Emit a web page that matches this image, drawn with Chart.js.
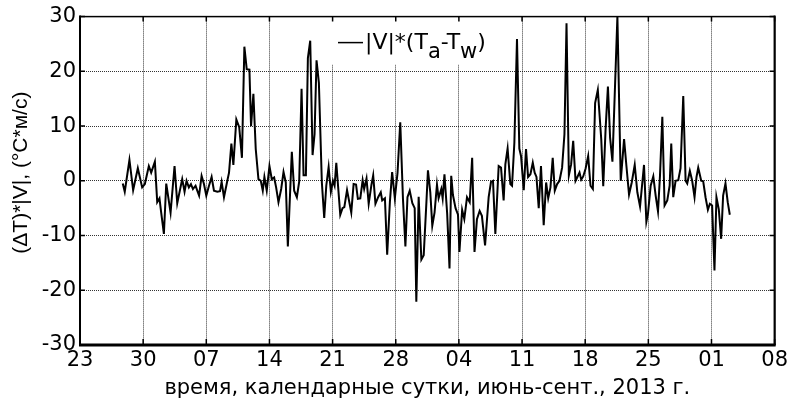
<!DOCTYPE html>
<html>
<head>
<meta charset="utf-8">
<script src="https://cdn.jsdelivr.net/npm/chart.js@4.4.0/dist/chart.umd.min.js"></script>
<style>
html, body { margin: 0; padding: 0; background: #fff; }
</style>
</head>
<body>
<canvas id="myChart" width="791" height="402"></canvas>
<script>
// x ticks: every 7 days starting 23 June 2013
const tickLabels = ['23', '30', '07', '14', '21', '28', '04', '11', '18', '25', '01', '08'];

// time in days since 23.06.2013
const dayOffsets = [
    4.74, 4.96, 5.48, 5.89, 6.41, 6.89, 7.19, 7.63, 7.89, 8.30, 8.56, 8.81, 9.0, 9.30, 9.56, 10.04, 10.48, 10.78,
    11.33, 11.59, 11.81, 12.07, 12.3, 12.52, 12.81, 13.0, 13.2, 13.48, 13.74, 14.0, 14.3, 14.59, 14.85, 15.22,
    15.52, 15.70, 15.96, 16.33, 16.52, 16.78, 17.0, 17.33, 17.65, 17.95,
    18.22, 18.48, 18.78, 18.96, 19.22, 19.48, 19.78, 20.04, 20.26, 20.44, 20.7, 21.0, 21.26, 21.52, 21.74, 22.0,
    22.3, 22.56, 22.81, 23.04, 23.48, 23.74, 24.04, 24.3, 24.56, 24.78, 25.04, 25.26, 25.52, 25.78, 26.0, 26.22,
    26.48, 26.81, 27.07, 27.3, 27.56, 27.81, 28.04, 28.22, 28.41, 28.85, 29.1, 29.3, 29.6, 30.07, 30.33, 30.6,
    30.8, 31.07,
    31.33, 31.5, 31.76, 32.0, 32.3, 32.5, 32.75, 33.05, 33.34, 33.5, 33.8, 34.05, 34.35, 34.6, 34.9, 35.2, 35.5,
    35.8, 36.07, 36.3, 36.55, 36.84, 37.1, 37.28, 37.54, 37.84, 38.1, 38.4, 38.57, 38.83, 39.05, 39.3, 39.57,
    39.75, 40.05, 40.2, 40.4, 40.7, 40.96, 41.15, 41.34, 41.63, 41.9, 42.06, 42.36, 42.6, 42.9, 43.2, 43.47,
    43.73, 44.0, 44.3, 44.55, 44.9,
    45.3, 45.56, 45.78, 46.04, 46.41, 46.67, 46.96, 47.15, 47.4, 47.7, 47.89, 48.15, 48.44, 48.7, 48.89, 49.19,
    49.44, 49.67, 49.93, 50.19, 50.4, 50.6, 50.85, 51.1, 51.4, 51.67, 51.9, 52.15, 52.4, 52.63, 52.89, 53.15,
    53.44, 53.7, 53.93, 54.19, 54.44, 54.67, 54.93, 55.11, 55.37, 55.56, 55.78, 56.04, 56.33, 56.59, 56.85,
    57.1, 57.4, 57.78, 58.0, 58.26, 58.52, 58.76, 59.02, 59.57, 59.94,
    60.31, 60.57, 60.86, 61.16, 61.49, 61.78, 62.08, 62.52, 62.78, 62.96, 63.26, 63.55, 63.81, 64.07, 64.29,
    64.55, 64.8, 65.1, 65.36, 65.54, 65.76, 66.02, 66.32, 66.57, 66.87, 67.13, 67.31, 67.6, 67.86, 68.12, 68.34,
    68.53, 68.86, 69.08, 69.34, 69.6, 69.82, 70.07, 70.33, 70.55, 70.81, 71.07, 71.29, 71.55, 71.8, 72.03
];

// |V|*(Ta-Tw), °C*m/s
const fluxValues = [
    -0.5, -2, 3.8, -1.7, 2.3, -1.2, -0.6, 2.7, 1.5, 3.5, -3.9, -3.2, -5.8, -9.7, -0.5, -5.8, 2.7, -4.1,
    0.3, -2, 0, -1.2, -0.6, -1.5, -0.9, -1.8, -2.7, 0.9, -0.6, -2.7, -0.9, 0.7, -1.8, -2,
    -1.9, -0.2, -3, 0, 1.5, 6.8, 2.9, 11.2, 9.8, 4.2,
    24.5, 20.4, 20.3, 10, 15.9, 5.8, 0.3, 0, -1.8, 0.7, -1.8, 2.7, 0.3, 0.6, -1.2, -3.9,
    -1.5, 1.6, -0.3, -12, 5.3, -1.8, -3, -0.1, 16.8, 1.0, 1.0, 22.4, 25.6, 4.7, 8.5, 22,
    17.9, -0.3, -6.8, -0.9, 2.5, -2, 0, -0.9, 3.3, -6.2, -5, -4.8, -1.7, -5.8, -0.6, -0.7,
    -3.3, -3.2,
    0.1, -1.5, 0.4, -4.2, -0.8, 1, -4.2, -3, -2.1, -3.6, -3.2, -13.5, -3.9, 1.6, -3.2, 1.5, 10.7,
    -3.3, -12, -3, -1.8, -4.1, -5, -22.1, -2.9, -14.4, -13.6, -3.9, 1.9, -2.1, -8.2, -5.8, -0.7,
    -3.2, -1.5, -3.2, 1.2, -6, -16, 0.9, -2.6, -5, -6.2, -13, -5.3, -7, -3, -3.9, 4.2,
    -13, -7, -5.5, -6.4, -11.8,
    -3, -0.2, 0, -9.7, 2.7, 2.4, -3.6, 3, 5.9, -0.6, -0.9, 7, 25.9, 5.9, 4.5, -1.7,
    5.8, 0.7, 1.2, 3.3, 1.5, 0.7, -5, 2.7, -8.1, -0.3, -3.2, -1.2, 4.2, -1.8, -0.6, 0,
    2.4, 8.5, 28.8, 1, 3, 7.3, 0, 0.6, 1.5, 0.2, 0.8, 2.2, 4.5, -0.9, -1.5,
    14.2, 16.6, 7.6, -1, 9.4, 17.2, 7.9, 3.5, 30, 0,
    7.6, 2.7, -2.5, -0.3, 2.9, -2.1, -4.7, 2.9, -7.5, -6, -0.9, 0.8, -2.7, -5.6, 0.9,
    11.7, -4.5, -3.6, -0.9, 6.8, -3, 0, 0.1, 2.3, 15.5, 0, -0.5, 1.8, 0, -3, 0.7,
    2.4, 0, -0.1, -3, -5.3, -4.2, -4.5, -16.4, -3, -5.2, -10.6, -2.7, -0.5, -3.9, -6.2
];

const yTitle = '(ΔT)*|V|, (°C*м/с)';
const xTitle = 'время, календарные сутки, июнь-сент., 2013 г.';

const FONT = "'DejaVu Sans', 'Liberation Sans', Arial, sans-serif";
Chart.defaults.font.family = FONT;
Chart.defaults.color = '#000';

// frame, inner ticks, y title and the legend with subscripts
const framePlugin = {
    id: 'frame',
    beforeDatasetsDraw(chart) {
        const {ctx, chartArea: a} = chart;
        ctx.save();
        ctx.fillStyle = '#fff';
        ctx.fillRect(a.left + 243, a.top + 1, 185, 47);
        ctx.restore();
    },
    afterDraw(chart) {
        const {ctx, chartArea: a, scales} = chart;
        ctx.save();
        ctx.strokeStyle = '#000';
        ctx.lineWidth = 1.5;
        ctx.strokeRect(a.left, a.top, a.right - a.left, a.bottom - a.top);
        ctx.lineWidth = 2;
        ctx.beginPath();
        ctx.moveTo(a.left, a.top - 1);
        ctx.lineTo(a.left, a.bottom);
        ctx.moveTo(a.right, a.top - 1);
        ctx.lineTo(a.right, a.bottom);
        ctx.stroke();
        ctx.lineWidth = 3;
        ctx.beginPath();
        ctx.moveTo(a.left - 1, a.bottom);
        ctx.lineTo(a.right + 1, a.bottom);
        ctx.stroke();

        ctx.lineWidth = 1.5;
        ctx.beginPath();
        scales.x.ticks.forEach(t => {
            const px = scales.x.getPixelForValue(t.value);
            ctx.moveTo(px, a.top); ctx.lineTo(px, a.top + 5);
            ctx.moveTo(px, a.bottom); ctx.lineTo(px, a.bottom - 6);
        });
        scales.y.ticks.forEach(t => {
            const py = scales.y.getPixelForValue(t.value);
            ctx.moveTo(a.left, py); ctx.lineTo(a.left + 5, py);
            ctx.moveTo(a.right, py); ctx.lineTo(a.right - 5, py);
        });
        ctx.stroke();

        // y axis title
        ctx.save();
        ctx.translate(21, a.top + 156);
        ctx.rotate(-Math.PI / 2);
        ctx.font = "21px 'Liberation Sans', Arial, sans-serif";
        ctx.textAlign = 'center';
        ctx.textBaseline = 'middle';
        ctx.fillStyle = '#000';
        ctx.fillText(yTitle, 0, 0);
        ctx.restore();

        // legend
        const ly = a.top + 26;
        ctx.lineWidth = 1.5;
        ctx.beginPath();
        ctx.moveTo(a.left + 258, ly);
        ctx.lineTo(a.left + 283, ly);
        ctx.stroke();

        const parts = [['|V|*(T', 0], ['a', 1], ['-T', 0], ['w', 1], [')', 0]];
        let x = a.left + 285;
        const base = a.top + 32;
        ctx.fillStyle = '#000';
        ctx.textAlign = 'left';
        ctx.textBaseline = 'alphabetic';
        parts.forEach(([txt, sub]) => {
            ctx.font = (sub ? '21px ' : '22px ') + FONT;
            ctx.fillText(txt, x, base + (sub ? 9 : 0));
            x += ctx.measureText(txt).width;
        });
        ctx.restore();
    }
};

const ctx = document.getElementById('myChart').getContext('2d');
const chart = new Chart(ctx, {
    type: 'line',
    data: {
        datasets: [
            {
                label: '|V|*(Ta-Tw)',
                data: dayOffsets.map((d, i) => ({x: d, y: fluxValues[i]})),
                borderColor: '#000',
                borderWidth: 2,
                pointRadius: 0,
                tension: 0,
                fill: false
            }
        ]
    },
    options: {
        responsive: false,
        animation: false,
        layout: {padding: {top: 15, right: 16, left: 0, bottom: 0}},
        plugins: {
            legend: {display: false},
            tooltip: {enabled: false}
        },
        scales: {
            x: {
                type: 'linear',
                min: 0,
                max: 77,
                afterFit: (s) => { s.height = 57; },
                ticks: {
                    stepSize: 7,
                    autoSkip: false,
                    maxRotation: 0,
                    padding: 3,
                    font: {size: 21},
                    callback: (v) => tickLabels[Math.round(v / 7)]
                },
                grid: {color: 'rgba(0,0,0,0.8)', lineWidth: 1, drawTicks: false},
                border: {display: false, dash: [1, 1]},
                title: {
                    display: true,
                    text: xTitle,
                    font: {size: 21},
                    padding: {top: 0, bottom: 1}
                }
            },
            y: {
                min: -30,
                max: 30,
                afterFit: (s) => { s.width = 80; },
                ticks: {
                    stepSize: 10,
                    padding: 4,
                    font: {size: 21}
                },
                grid: {color: 'rgba(0,0,0,0.8)', lineWidth: 1, drawTicks: false},
                border: {display: false, dash: [1, 1]}
            }
        }
    },
    plugins: [framePlugin]
});
</script>
</body>
</html>
